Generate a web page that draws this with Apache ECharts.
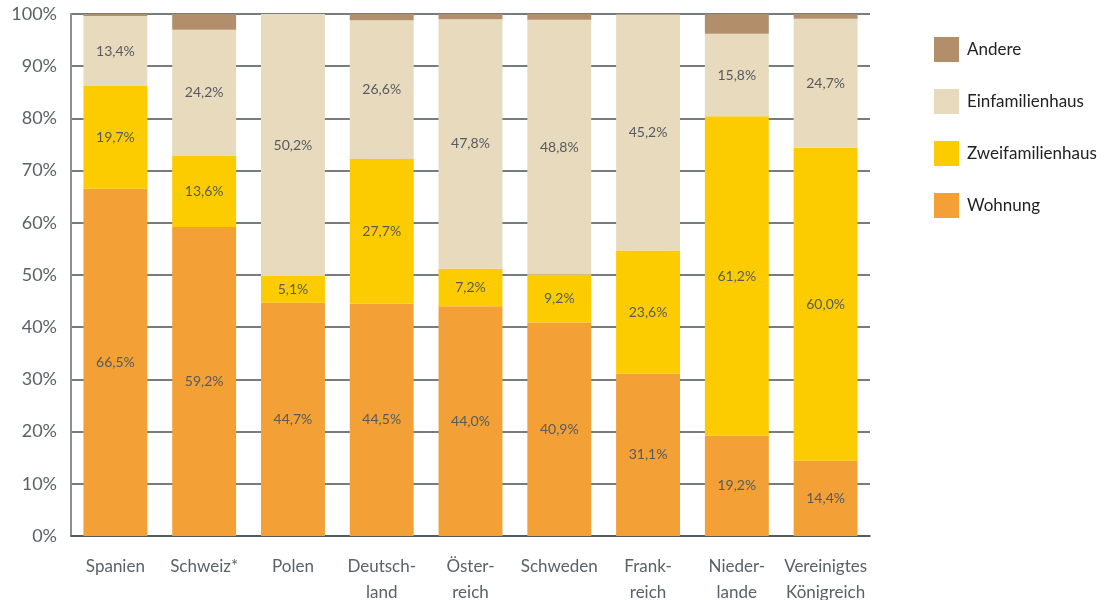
<!DOCTYPE html>
<html>
<head>
<meta charset="utf-8">
<script src="https://cdn.jsdelivr.net/npm/echarts@6/dist/echarts.min.js"></script>
<style>
  html, body { margin: 0; padding: 0; background: #fff; }
  #chart { width: 1112px; height: 600px; }
</style>
</head>
<body>
<div id="chart"></div>
<script>
// Länder
var categories = ['Spanien', 'Schweiz*', 'Polen', 'Deutsch-\nland', 'Öster-\nreich', 'Schweden', 'Frank-\nreich', 'Nieder-\nlande', 'Vereinigtes\nKönigreich'];
// Anteile in %
var wohnung = [66.5, 59.2, 44.7, 44.5, 44.0, 40.9, 31.1, 19.2, 14.4];
var zweifamilienhaus = [19.7, 13.6, 5.1, 27.7, 7.2, 9.2, 23.6, 61.2, 60.0];
var einfamilienhaus = [13.4, 24.2, 50.2, 26.6, 47.8, 48.8, 45.2, 15.8, 24.7];
var andere = [0.4, 3.0, 0.0, 1.2, 1.0, 1.1, 0.1, 3.8, 0.9];

var colors = {
  'Andere': '#b38e6a',
  'Einfamilienhaus': '#e8dabd',
  'Zweifamilienhaus': '#fdcc00',
  'Wohnung': '#f3a036'
};

var font = 'Lato, "Open Sans", sans-serif';

function fmt(p) {
  return p.value.toFixed(1).replace('.', ',') + '%';
}

function makeSeries(name, data, withLabel) {
  return {
    name: name,
    type: 'bar',
    stack: 'total',
    barWidth: '72%',
    data: data,
    itemStyle: { color: colors[name] },
    label: {
      show: withLabel,
      position: 'inside',
      formatter: fmt,
      color: '#555b60',
      fontSize: 14,
      fontFamily: font
    },
    emphasis: { disabled: true }
  };
}

var myChart = echarts.init(document.getElementById('chart'));
var option = {
  animation: false,
  textStyle: { fontFamily: font },
  grid: { left: 71, right: 242, top: 14, bottom: 64, containLabel: false, outerBoundsMode: 'none' },
  legend: {
    orient: 'vertical',
    left: 929,
    top: 32,
    itemWidth: 25,
    itemHeight: 25,
    itemGap: 27,
    icon: 'rect',
    data: ['Andere', 'Einfamilienhaus', 'Zweifamilienhaus', 'Wohnung'],
    textStyle: { color: '#222', fontSize: 17, fontFamily: font, padding: [0, 0, 0, 3] }
  },
  xAxis: {
    type: 'category',
    data: categories,
    axisTick: { show: false },
    axisLine: { show: true, lineStyle: { color: '#4a5055', width: 1.5 } },
    axisLabel: {
      color: '#5b6166',
      fontSize: 17,
      margin: 18,
      lineHeight: 26,
      interval: 0,
      fontFamily: font
    }
  },
  yAxis: {
    type: 'value',
    min: 0,
    max: 100,
    interval: 10,
    axisLine: { show: true, lineStyle: { color: '#8a8f93', width: 2 } },
    axisTick: { show: false },
    axisLabel: {
      color: '#5b6166',
      fontSize: 18,
      margin: 14,
      fontFamily: font,
      formatter: '{value}%'
    },
    splitLine: { show: true, lineStyle: { color: '#4a5055', width: 1.5 } }
  },
  series: [
    makeSeries('Wohnung', wohnung, true),
    makeSeries('Zweifamilienhaus', zweifamilienhaus, true),
    makeSeries('Einfamilienhaus', einfamilienhaus, true),
    makeSeries('Andere', andere, false)
  ]
};
myChart.setOption(option);
</script>
</body>
</html>
